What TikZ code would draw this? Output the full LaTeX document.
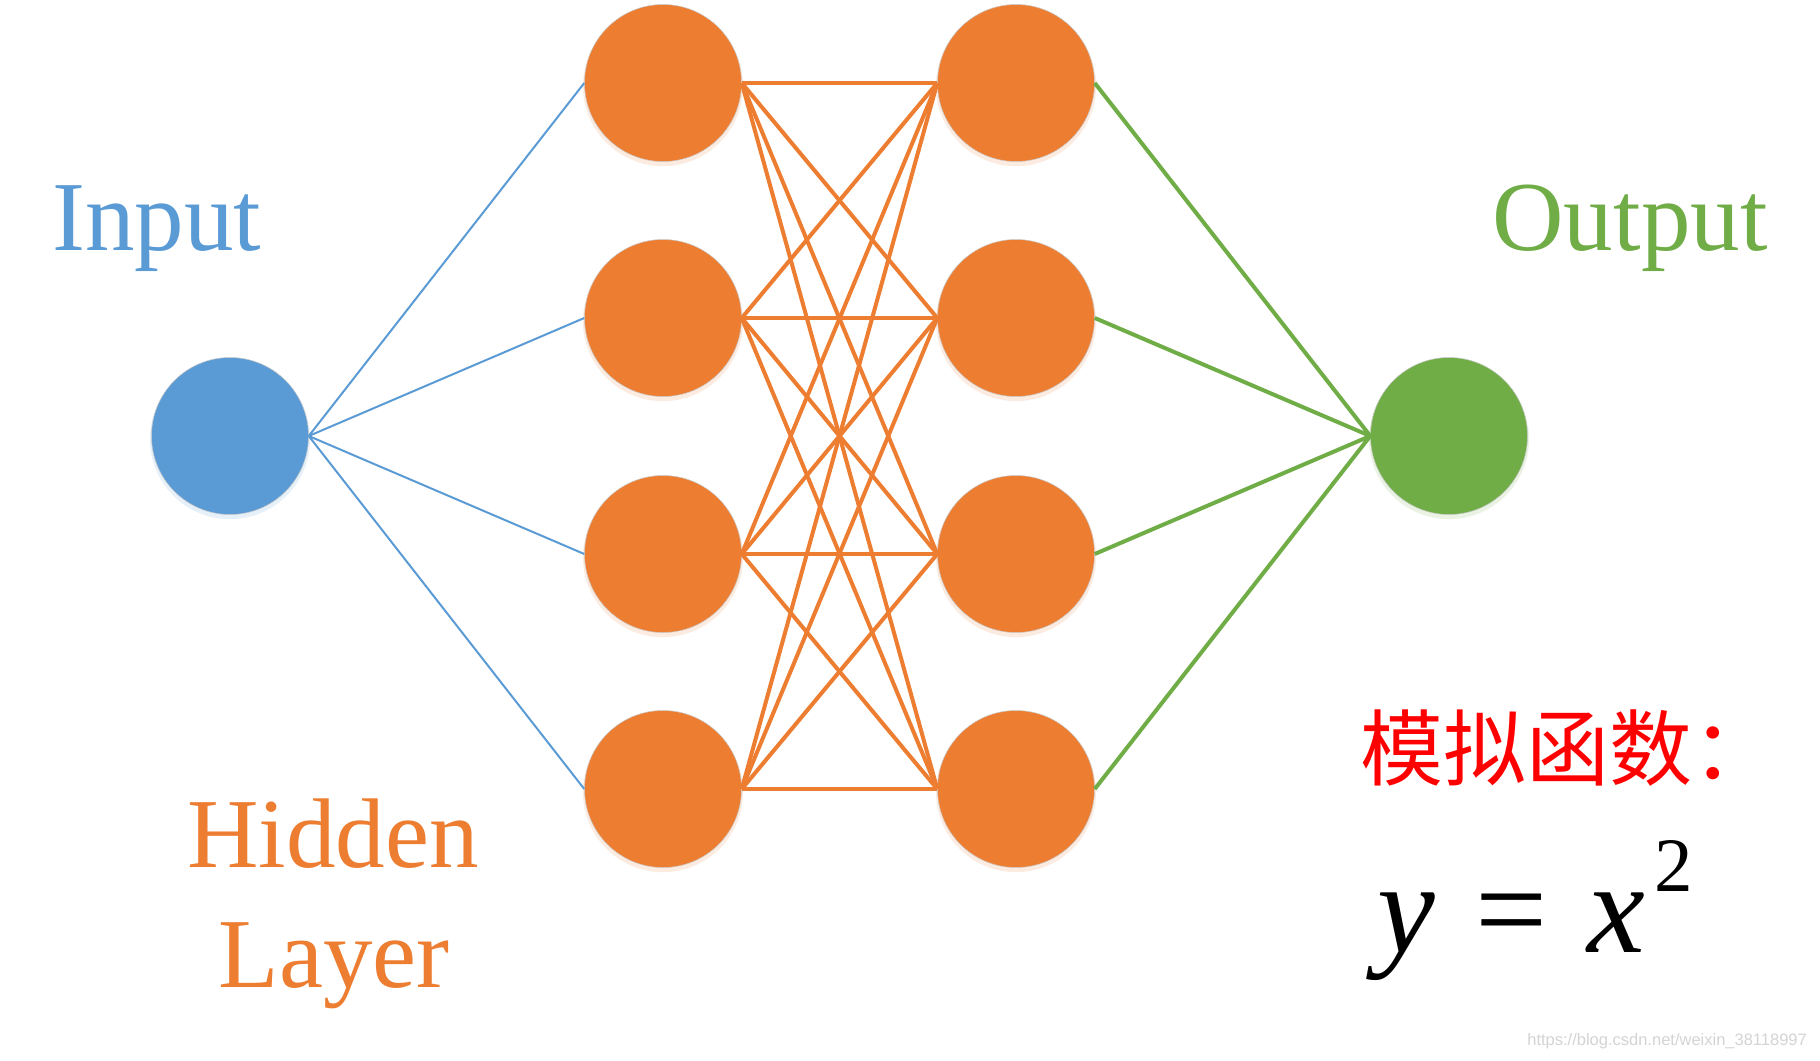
\documentclass[tikz,border=0pt]{standalone}
\usepackage{fontspec}
\setmainfont{Liberation Serif}
\newfontfamily\cjk{Noto Sans CJK SC}
\newfontfamily\wmfont{Liberation Sans}
\usetikzlibrary{shadows}
\definecolor{inblue}{HTML}{5B9BD5}
\definecolor{hidorange}{HTML}{ED7D31}
\definecolor{outgreen}{HTML}{70AD47}
\definecolor{wmgray}{HTML}{D4D4D4}
\tikzset{
  neuron/.style={circle, fill=#1, draw=black!22, line width=0.5pt, minimum size=157pt, inner sep=0pt,
    drop shadow={shadow xshift=0pt, shadow yshift=-3pt, fill=#1, opacity=0.15, shadow scale=1.02}},
  bigtext/.style={inner sep=0pt, anchor=base, font=\fontsize{99}{110}\selectfont},
  blueedge/.style={draw=inblue, line width=2pt},
  orangeedge/.style={draw=hidorange, line width=4pt},
  greenedge/.style={draw=outgreen, line width=4pt},
}
\begin{document}
\begin{tikzpicture}[x=1pt,y=-1pt]
\useasboundingbox (0,0) rectangle (1820,1060);
\fill[white] (0,0) rectangle (1820,1060);

% nodes
\node[neuron=inblue] (in) at (230,436) {};
\foreach \i/\yy in {1/83,2/318,3/554,4/789}{
  \node[neuron=hidorange] (a\i) at (663,\yy) {};
  \node[neuron=hidorange] (b\i) at (1016,\yy) {};
}
\node[neuron=outgreen] (out) at (1449,436) {};

% connectors
\foreach \i in {1,...,4}{
  \draw[blueedge] (in.east) -- (a\i.west);
  \draw[greenedge] (b\i.east) -- (out.west);
  \foreach \j in {1,...,4}{
    \draw[orangeedge] (a\i.east) -- (b\j.west);
  }
}

% labels
\node[bigtext, text=inblue] (lin) at (157,250) {Input};
\node[bigtext, text=outgreen] (lout) at (1630,250) {Output};
\node[bigtext, text=hidorange] (lhid) at (333,867) {Hidden};
\node[bigtext, text=hidorange] (llay) at (334,987) {Layer};

\node[inner sep=0pt, anchor=base west, text=red, font=\cjk\fontsize{83}{90}\selectfont] (lfun) at (1360,779) {模拟函数：};

\node[inner sep=0pt, anchor=base, font=\fontsize{130}{140}\selectfont\itshape] (eqy) at (1406,952) {y};
\node[inner sep=0pt, anchor=base, font=\fontsize{128}{140}\selectfont] (eqeq) at (1512,952) {=};
\node[inner sep=0pt, anchor=base, font=\fontsize{130}{140}\selectfont\itshape] (eqx) at (1616,952) {x};
\node[inner sep=0pt, anchor=base, font=\fontsize{77}{85}\selectfont] (eqtwo) at (1674,891) {2};

\node[inner sep=0pt, anchor=base east, text=wmgray, font=\wmfont\fontsize{16.5}{20}\selectfont] (wm) at (1807,1045) {https://blog.csdn.net/weixin\_38118997};
\end{tikzpicture}
\end{document}
